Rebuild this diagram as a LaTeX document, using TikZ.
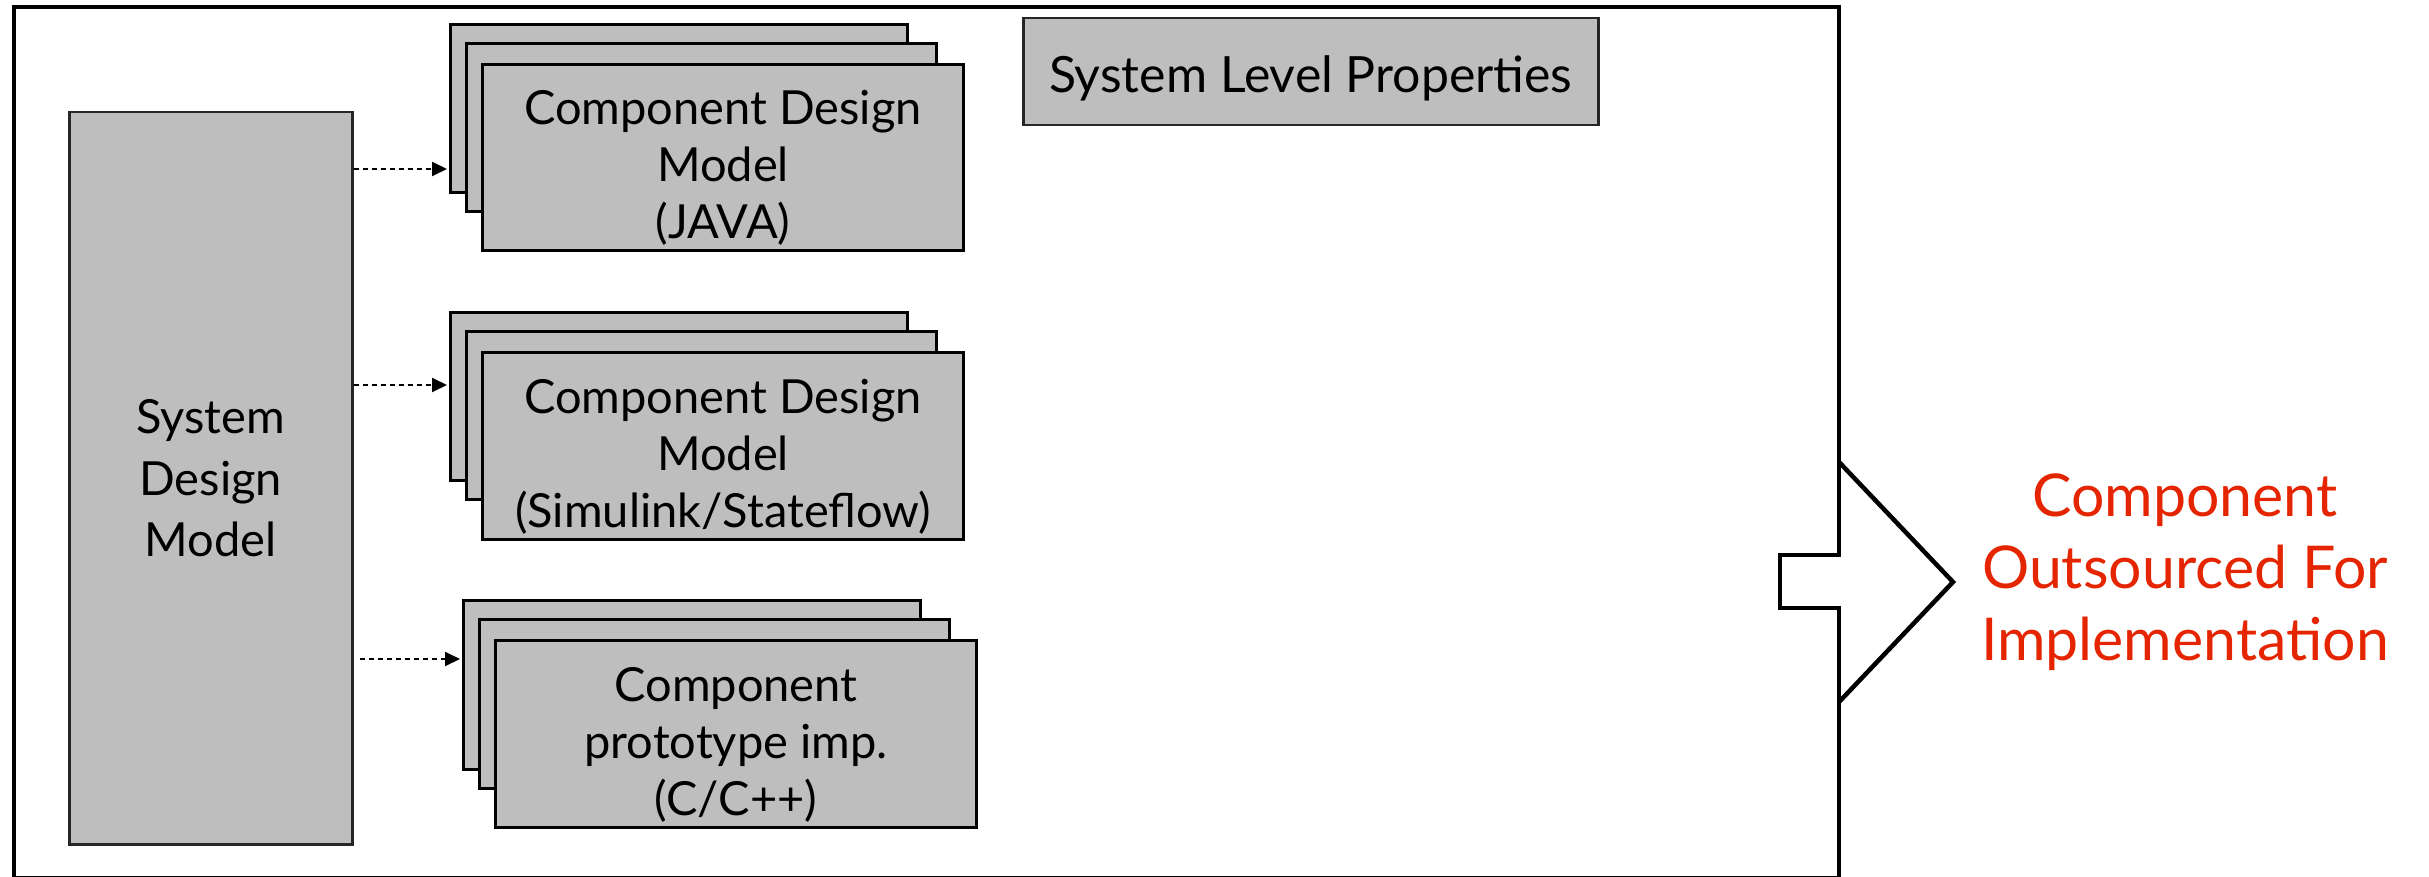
\documentclass[tikz,border=0pt]{standalone}
\usepackage{fontspec}
\setmainfont{Lato}
\usetikzlibrary{arrows.meta}
\definecolor{boxgray}{RGB}{190,190,190}
\definecolor{outred}{RGB}{228,37,0}
\begin{document}
\begin{tikzpicture}[x=1pt,y=-1pt,
  gbox/.style={draw=black, fill=boxgray, line width=3pt, inner sep=0pt, anchor=north west},
  mainbox/.style={draw=black!85, fill=boxgray, line width=2.5pt, inner sep=0pt, anchor=north west},
  lbl/.style={font=\fontsize{47}{57}\selectfont, align=center, inner sep=0pt},
  dotarrow/.style={line width=2pt, dash pattern=on 5pt off 4pt, -{Triangle[length=15pt,width=14pt]}},
  frameline/.style={line width=4.5pt, line join=miter}
]
\useasboundingbox (0,0) rectangle (2429,877);

% outer frame with notch and arrow head
\draw[frameline] (1839,555) -- (1780,555) -- (1780,608) -- (1839,608) -- (1839,878.5) -- (14,878.5) -- (14,7) -- (1839,7) -- cycle;
\draw[frameline] (1839,462) -- (1953,582) -- (1839,702);

% system design model
\node[mainbox, minimum width=283pt, minimum height=732pt, align=center, font=\fontsize{47}{61.5}\selectfont] (sys) at (68,111) {System\\Design\\Model};

% stack 1
\node[gbox, minimum width=457pt, minimum height=168pt] (s1a) at (449,23) {};
\node[gbox, minimum width=470pt, minimum height=168pt] (s1b) at (465,42) {};
\node[gbox, minimum width=481pt, minimum height=186pt] (s1c) at (481,63) {};
\node[lbl] (t1) at ([yshift=-10.5pt]s1c.center) {Component Design\\Model\\(JAVA)};

% stack 2
\node[gbox, minimum width=457pt, minimum height=168pt] (s2a) at (449,311) {};
\node[gbox, minimum width=470pt, minimum height=168pt] (s2b) at (465,330) {};
\node[gbox, minimum width=481pt, minimum height=187pt] (s2c) at (481,351) {};
\node[lbl] (t2) at ([yshift=-10.5pt]s2c.center) {Component Design\\Model\\(Simulink/Stateflow)};

% stack 3
\node[gbox, minimum width=457pt, minimum height=169pt] (s3a) at (462,599) {};
\node[gbox, minimum width=470pt, minimum height=169pt] (s3b) at (478,618) {};
\node[gbox, minimum width=481pt, minimum height=187pt] (s3c) at (494,639) {};
\node[lbl] (t3) at ([yshift=-10.5pt]s3c.center) {Component\\prototype imp.\\(C/C++)};

% system level properties
\node[mainbox, minimum width=575pt, minimum height=107pt, font=\fontsize{50}{58}\selectfont, text height=41pt, text depth=0pt] (slp) at (1022,17) {System Level Properties};

% outsourced label
\node[font=\fontsize{59}{72}\selectfont, text=outred, align=center, inner sep=0pt] (out) at (2185,572) {Component\\Outsourced For\\Implementation};

% arrows
\coordinate (y1) at (0,169);
\coordinate (y2) at (0,385);
\coordinate (y3) at (0,659);
\draw[dotarrow, shorten >=2pt] (sys.east |- y1) -- (s1a.west |- y1);
\draw[dotarrow, shorten >=2pt] (sys.east |- y2) -- (s2a.west |- y2);
\draw[dotarrow, shorten <=6pt, shorten >=2pt] (sys.east |- y3) -- (s3a.west |- y3);
\end{tikzpicture}
\end{document}
